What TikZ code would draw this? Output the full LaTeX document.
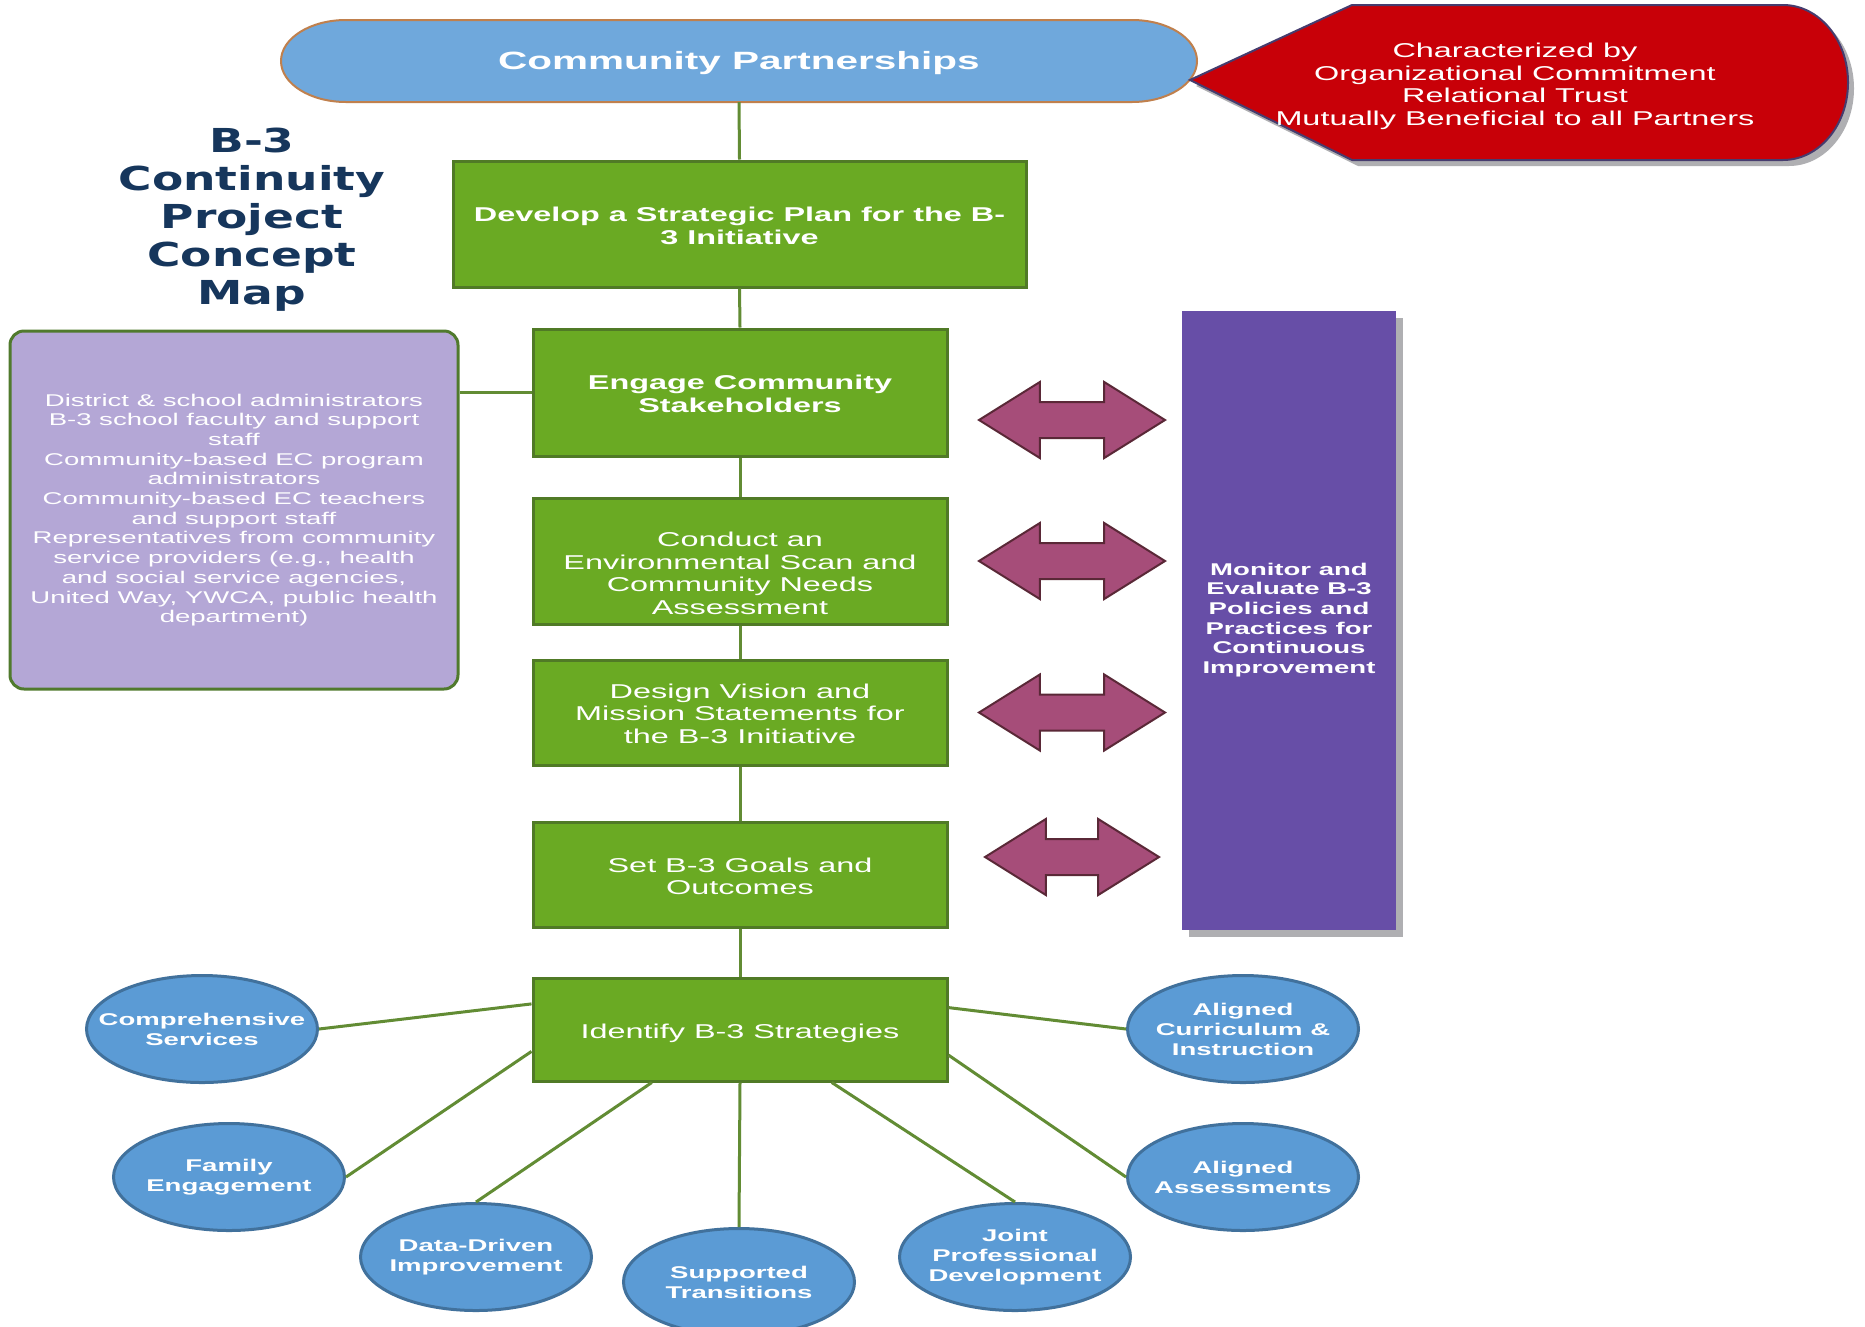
\documentclass[tikz,border=0pt]{standalone}
\usepackage{fontspec}
\newfontfamily\sw[FakeStretch=1.62]{Liberation Sans}
\newfontfamily\tf[FakeStretch=1.38]{DejaVu Sans}
\usetikzlibrary{shapes.geometric,shapes.arrows,shadows,calc}
\definecolor{gfill}{RGB}{106,170,35}
\definecolor{gdraw}{RGB}{80,122,38}
\definecolor{gline}{RGB}{98,140,52}
\definecolor{pillfill}{RGB}{111,168,220}
\definecolor{pilldraw}{RGB}{192,128,77}
\definecolor{redfill}{RGB}{200,0,8}
\definecolor{reddraw}{RGB}{70,60,110}
\definecolor{lavfill}{RGB}{180,167,214}
\definecolor{lavdraw}{RGB}{80,122,45}
\definecolor{monfill}{RGB}{103,78,167}
\definecolor{arrfill}{RGB}{166,77,121}
\definecolor{arrdraw}{RGB}{90,40,55}
\definecolor{ellfill}{RGB}{91,155,213}
\definecolor{elldraw}{RGB}{65,113,156}
\definecolor{navy}{RGB}{22,54,92}
\definecolor{shadowgray}{RGB}{175,175,178}
\tikzset{
  greenbox/.style={draw=gdraw, line width=3pt, fill=gfill, text=white, align=center,
    minimum width=414pt, inner sep=0pt, font=\sw\fontsize{20}{22.5}\selectfont},
  conn/.style={draw=gline, line width=3pt},
  ell/.style={ellipse, draw=elldraw, line width=3pt, fill=ellfill,
    minimum width=231pt, minimum height=107pt, inner sep=0pt},
  elltext/.style={text=white, align=center, inner sep=0pt,
    font=\sw\bfseries\fontsize{17}{20}\selectfont},
  dblarr/.style={double arrow, draw=arrdraw, line width=2pt, fill=arrfill,
    minimum height=186pt, inner xsep=0pt, inner ysep=17pt,
    double arrow head extend=20pt, double arrow tip angle=64},
}
\begin{document}
\begin{tikzpicture}[x=1pt,y=1pt]
\fill[white] (0,0) rectangle (1865,-1326);
\useasboundingbox (0,0) rectangle (1865,-1326);

% spine nodes
\node[minimum width=916pt, minimum height=82pt, inner sep=0pt] (cp) at (739,-61) {};
\node[greenbox, minimum width=573pt, minimum height=126pt, font=\sw\bfseries\fontsize{20}{22.5}\selectfont] (dev) at (739.5,-224) {\rule{0pt}{18pt}Develop a Strategic Plan for the B-\\3 Initiative};
\node[greenbox, minimum height=127pt, font=\sw\bfseries\fontsize{20}{22.5}\selectfont] (eng) at (740,-392.5) {\rule{0pt}{17pt}Engage Community\\Stakeholders};
\node[greenbox, minimum height=126pt] (con) at (740,-561) {\rule{0pt}{39pt}Conduct an\\Environmental Scan and\\Community Needs\\Assessment};
\node[greenbox, minimum height=105pt] (des) at (740,-712.5) {\rule{0pt}{17pt}Design Vision and\\Mission Statements for\\the B-3 Initiative};
\node[greenbox, minimum height=105pt] (set) at (740,-874.5) {\rule{0pt}{18pt}Set B-3 Goals and\\Outcomes};
\node[greenbox, minimum height=103pt] (idf) at (740,-1029.5) {\rule{0pt}{23pt}Identify B-3 Strategies};

% pill shape
\draw[draw=pilldraw, fill=pillfill, line width=2pt] (346,-20) -- (1132,-20)
  arc[start angle=90,end angle=-90,x radius=65,y radius=41] -- (346,-102)
  arc[start angle=270,end angle=90,x radius=65,y radius=41] -- cycle;
\node[text=white, font=\sw\bfseries\fontsize{25}{28}\selectfont] (cptext) at ([yshift=-2pt]cp) {Community Partnerships};

% red shape with shadow
\fill[shadowgray] (1196,-86) -- (1358,-11) -- (1789,-11)
  arc[start angle=90,end angle=-90,x radius=65,y radius=77.5] -- (1358,-166) -- cycle;
\draw[draw=reddraw, fill=redfill, line width=2pt] (1190,-80) -- (1352,-5) -- (1783,-5)
  arc[start angle=90,end angle=-90,x radius=65,y radius=77.5] -- (1352,-160) -- cycle;
\node[text=white, align=center, font=\sw\fontsize{20}{22.6}\selectfont] (rc) at (1515,-86.5)
  {Characterized by\\Organizational Commitment\\Relational Trust\\Mutually Beneficial to all Partners};

% title
\node[text=navy, align=center, font=\tf\bfseries\fontsize{33}{38}\selectfont] (title) at (252,-220)
  {B-3\\Continuity\\Project\\Concept\\Map};

% spine
\draw[conn] (cp.south) -- (dev.north);
\draw[conn] (dev.south) -- (eng.north);
\draw[conn] (eng.south) -- (con.north);
\draw[conn] (con.south) -- (des.north);
\draw[conn] (des.south) -- (set.north);
\draw[conn] (set.south) -- (idf.north);

% lavender box
\node[draw=lavdraw, line width=3pt, fill=lavfill, rounded corners=14pt, text=white, align=center,
  minimum width=448pt, minimum height=358pt, inner sep=0pt,
  font=\sw\fontsize{17}{19.7}\selectfont] (lav) at (234,-510)
  {District \& school administrators\\B-3 school faculty and support\\staff\\Community-based EC program\\administrators\\Community-based EC teachers\\and support staff\\Representatives from community\\service providers (e.g., health\\and social service agencies,\\United Way, YWCA, public health\\department)};
\draw[conn] (eng.west) -- (eng.west -| lav.east);

% monitor box
\node[fill=monfill, general shadow={fill=shadowgray, shadow xshift=7pt, shadow yshift=-7pt},
  text=white, align=center, minimum width=214pt, minimum height=619pt, inner sep=0pt,
  font=\sw\bfseries\fontsize{17}{19.7}\selectfont] (mon) at (1289,-620)
  {Monitor and\\Evaluate B-3\\Policies and\\Practices for\\Continuous\\Improvement};

% double arrows
\node[dblarr] (a1) at (1072,-420) {};
\node[dblarr] (a2) at (1072,-561) {};
\node[dblarr] (a3) at (1072,-712.5) {};
\node[dblarr, minimum height=174pt] (a4) at (1072,-857) {};

% ellipses
\node[ell, label={[elltext]center:Comprehensive\\Services}] (cs) at (202,-1029) {};
\node[ell, label={[elltext]center:Family\\Engagement}] (fe) at (229,-1177) {};
\node[ell, label={[elltext]center:Data-Driven\\Improvement}] (dd) at (476,-1257) {};
\node[ell, label={[elltext]center:Supported\\Transitions}] (st) at (739,-1282) {};
\node[ell, label={[elltext]center:Joint\\Professional\\Development}] (jp) at (1015,-1257) {};
\node[ell, label={[elltext]center:Aligned\\Curriculum \&\\Instruction}] (ac) at (1243,-1029) {};
\node[ell, label={[elltext]center:Aligned\\Assessments}] (aa) at (1243,-1177) {};

\draw[conn] (idf.173.8) -- (cs.east);
\draw[conn] (idf.186.2) -- (fe.east);
\draw[conn] (idf.211) -- (dd.north);
\draw[conn] (idf.south) -- (st.north);
\draw[conn] (idf.330) -- (jp.north);
\draw[conn] (idf.353.8) -- (aa.west);
\draw[conn] (idf.6.2) -- (ac.west);
\end{tikzpicture}
\end{document}
